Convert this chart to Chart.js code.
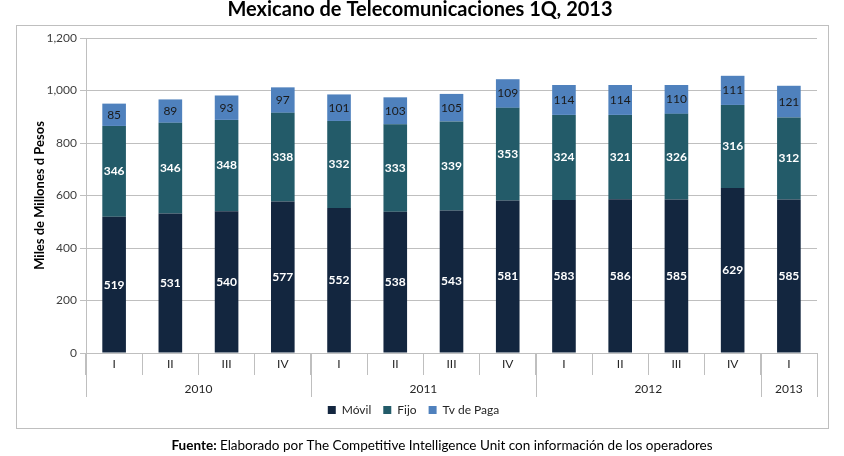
<!DOCTYPE html>
<html>
<head>
<meta charset="utf-8">
<script src="https://cdn.jsdelivr.net/npm/chart.js@4"></script>
<style>
  html, body { margin: 0; padding: 0; background: #fff; }
  #wrap { width: 844px; height: 456px; position: relative; }
</style>
</head>
<body>
<div id="wrap"><canvas id="chart" width="844" height="456"></canvas></div>
<script>
// datos
const quarters = ['I', 'II', 'III', 'IV', 'I', 'II', 'III', 'IV', 'I', 'II', 'III', 'IV', 'I'];
const years = ['2010', '2011', '2012', '2013'];
const yearSpans = [4, 4, 4, 1];
const movil = [519, 531, 540, 577, 552, 538, 543, 581, 583, 586, 585, 629, 585];
const fijo = [346, 346, 348, 338, 332, 333, 339, 353, 324, 321, 326, 316, 312];
const tvPaga = [85, 89, 93, 97, 101, 103, 105, 109, 114, 114, 110, 111, 121];

const FONT = 'Lato, "Noto Sans", sans-serif';
const GRID = '#bfbfbf';

// marco, titulo y fuente
const decor = {
  id: 'decor',
  beforeDraw(chart) {
    const ctx = chart.ctx;
    ctx.save();
    ctx.strokeStyle = GRID;
    ctx.lineWidth = 1;
    ctx.strokeRect(16.5, 25.5, 812, 403);
    ctx.restore();
  },
  afterDraw(chart) {
    const ctx = chart.ctx;
    ctx.save();
    ctx.fillStyle = '#000';
    ctx.textAlign = 'center';
    ctx.textBaseline = 'middle';
    ctx.font = 'bold 20px ' + FONT;
    ctx.fillText('Mexicano de Telecomunicaciones 1Q, 2013', 420, 10);

    const a = 'Fuente: ';
    const b = 'Elaborado por The Competitive Intelligence Unit con información de los operadores';
    ctx.font = 'bold 13.5px ' + FONT;
    const wa = ctx.measureText(a).width;
    ctx.font = '13.5px ' + FONT;
    const wb = ctx.measureText(b).width;
    const x = 442 - (wa + wb) / 2;
    ctx.textAlign = 'left';
    ctx.font = 'bold 13.5px ' + FONT;
    ctx.fillText(a, x, 446);
    ctx.font = '13.5px ' + FONT;
    ctx.fillText(b, x + wa, 446);
    ctx.restore();
  }
};

// segunda fila del eje x: años y separadores
const yearAxis = {
  id: 'yearAxis',
  afterDraw(chart) {
    const ctx = chart.ctx;
    const xs = chart.scales.x;
    const area = chart.chartArea;
    const half = (xs.getPixelForValue(1) - xs.getPixelForValue(0)) / 2;
    ctx.save();
    ctx.strokeStyle = GRID;
    ctx.lineWidth = 1;
    ctx.fillStyle = '#262626';
    ctx.font = '12px ' + FONT;
    ctx.textAlign = 'center';
    ctx.textBaseline = 'middle';
    let start = 0;
    years.forEach((y, k) => {
      const end = start + yearSpans[k] - 1;
      const left = xs.getPixelForValue(start) - half;
      const right = xs.getPixelForValue(end) + half;
      [left, right].forEach(px => {
        const p = Math.round(px) + 0.5;
        ctx.beginPath();
        ctx.moveTo(p, area.bottom);
        ctx.lineTo(p, area.bottom + 44);
        ctx.stroke();
      });
      ctx.fillText(y, (left + right) / 2, area.bottom + 36);
      start = end + 1;
    });
    ctx.restore();
  }
};

// etiquetas de valor dentro de cada segmento
const valueLabels = {
  id: 'valueLabels',
  afterDatasetsDraw(chart) {
    const ctx = chart.ctx;
    ctx.save();
    ctx.textAlign = 'center';
    ctx.textBaseline = 'middle';
    chart.data.datasets.forEach((ds, di) => {
      const meta = chart.getDatasetMeta(di);
      meta.data.forEach((bar, i) => {
        const light = di === 2;
        ctx.fillStyle = light ? '#1a1a1a' : '#ffffff';
        ctx.font = (light ? '' : 'bold ') + '12px ' + FONT;
        ctx.fillText(String(ds.data[i]), bar.x, (bar.y + bar.base) / 2);
      });
    });
    ctx.restore();
  }
};

new Chart(document.getElementById('chart'), {
  type: 'bar',
  data: {
    labels: quarters,
    datasets: [
      { label: 'Móvil', data: movil, backgroundColor: '#13263f' },
      { label: 'Fijo', data: fijo, backgroundColor: '#235b69' },
      { label: 'Tv de Paga', data: tvPaga, backgroundColor: '#4f81bd' }
    ]
  },
  options: {
    responsive: false,
    animation: false,
    layout: { padding: { left: 10, right: 27, top: 38, bottom: 30 } },
    datasets: { bar: { barPercentage: 0.42, categoryPercentage: 1.0 } },
    plugins: {
      title: { display: false },
      tooltip: { enabled: false },
      legend: {
        position: 'bottom',
        labels: {
          boxWidth: 8, boxHeight: 8, padding: 12,
          color: '#262626',
          font: { family: FONT, size: 12 }
        }
      }
    },
    scales: {
      x: {
        stacked: true,
        afterFit(s) { s.height = 39; },
        grid: {
          offset: true, drawOnChartArea: false, color: GRID, tickLength: 22
        },
        border: { color: GRID },
        ticks: { color: '#262626', font: { family: FONT, size: 12 }, padding: -18 }
      },
      y: {
        stacked: true,
        min: 0, max: 1200,
        afterFit(s) { s.width = 76; },
        ticks: {
          stepSize: 200, color: '#404040', font: { family: FONT, size: 12 },
          callback: v => v.toLocaleString('en-US')
        },
        grid: { color: GRID, tickLength: 6 },
        border: { color: GRID },
        title: {
          display: true, text: 'Miles de Millones d Pesos', color: '#000',
          font: { family: FONT, size: 13, weight: 'bold' }, padding: { top: 22, bottom: 0 }
        }
      }
    }
  },
  plugins: [decor, yearAxis, valueLabels]
});
</script>
</body>
</html>
